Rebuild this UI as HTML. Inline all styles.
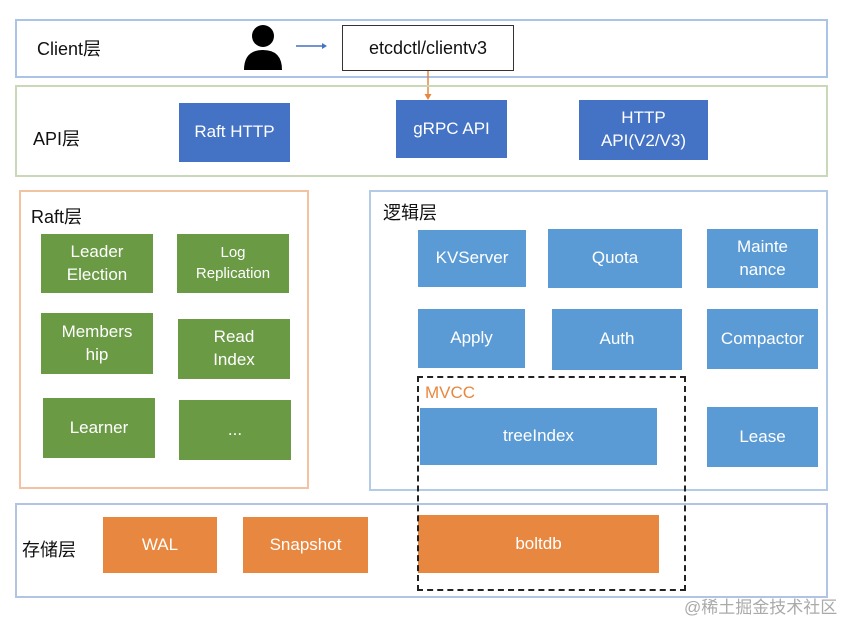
<!DOCTYPE html>
<html><head><meta charset="utf-8"><style>
body{margin:0;width:854px;height:620px;background:#fff;position:relative;overflow:hidden;font-family:"Liberation Sans","Noto Sans CJK SC",sans-serif}
div{position:absolute;box-sizing:border-box}
.b{display:flex;align-items:center;justify-content:center;text-align:center;color:#fff;font-size:17px;line-height:1.35}
.api{background:#4472c4}
.lg{background:#5b9bd5}
.gr{background:#6b9a45}
.or{background:#e8873f}
.lbl{font-size:18px;color:#111}
</style></head><body>
<div style="left:15px;top:19px;width:813px;height:59px;border:2px solid #a9c4e6"></div>
<div class="lbl" style="left:37px;top:35px">Client层</div>
<svg style="position:absolute;left:240px;top:24px" width="100" height="50">
<circle cx="23" cy="12" r="11" fill="#000"/>
<path d="M4 46 Q4 26 23 26 Q42 26 42 46 Z" fill="#000"/>
<line x1="56" y1="22" x2="82" y2="22" stroke="#4472c4" stroke-width="1.5"/>
<path d="M82 19 L87 22 L82 25Z" fill="#4472c4"/>
</svg>
<div class="b" style="left:342px;top:25px;width:172px;height:46px;border:1.5px solid #333;color:#111;font-size:18px">etcdctl/clientv3</div>
<svg style="position:absolute;left:420px;top:71px" width="16" height="30"><line x1="8" y1="0" x2="8" y2="24" stroke="#e8873f" stroke-width="1.5"/><path d="M4.5 23 L8 29 L11.5 23Z" fill="#e8873f"/></svg>

<div style="left:15px;top:85px;width:813px;height:92px;border:2px solid #c9d9b8"></div>
<div class="lbl" style="left:33px;top:125px">API层</div>
<div class="b api" style="left:179px;top:103px;width:111px;height:59px">Raft HTTP</div>
<div class="b api" style="left:396px;top:100px;width:111px;height:58px">gRPC API</div>
<div class="b api" style="left:579px;top:100px;width:129px;height:60px">HTTP<br>API(V2/V3)</div>

<div style="left:19px;top:190px;width:290px;height:299px;border:2px solid #f2c3a3"></div>
<div class="lbl" style="left:31px;top:203px">Raft层</div>
<div class="b gr" style="left:41px;top:234px;width:112px;height:59px">Leader<br>Election</div>
<div class="b gr" style="left:177px;top:234px;width:112px;height:59px;font-size:15px">Log<br>Replication</div>
<div class="b gr" style="left:41px;top:313px;width:112px;height:61px">Members<br>hip</div>
<div class="b gr" style="left:178px;top:319px;width:112px;height:60px">Read<br>Index</div>
<div class="b gr" style="left:43px;top:398px;width:112px;height:60px">Learner</div>
<div class="b gr" style="left:179px;top:400px;width:112px;height:60px">...</div>

<div style="left:369px;top:190px;width:459px;height:301px;border:2px solid #b3cbe6"></div>
<div class="lbl" style="left:383px;top:199px">逻辑层</div>
<div class="b lg" style="left:418px;top:230px;width:108px;height:57px">KVServer</div>
<div class="b lg" style="left:548px;top:229px;width:134px;height:59px">Quota</div>
<div class="b lg" style="left:707px;top:229px;width:111px;height:59px">Mainte<br>nance</div>
<div class="b lg" style="left:418px;top:309px;width:107px;height:59px">Apply</div>
<div class="b lg" style="left:552px;top:309px;width:130px;height:61px">Auth</div>
<div class="b lg" style="left:707px;top:309px;width:111px;height:60px">Compactor</div>
<div class="b lg" style="left:420px;top:408px;width:237px;height:57px">treeIndex</div>
<div class="b lg" style="left:707px;top:407px;width:111px;height:60px">Lease</div>

<div style="left:15px;top:503px;width:813px;height:95px;border:2px solid #b3c3e3"></div>
<div class="lbl" style="left:22px;top:536px">存储层</div>
<div class="b or" style="left:103px;top:517px;width:114px;height:56px">WAL</div>
<div class="b or" style="left:243px;top:517px;width:125px;height:56px">Snapshot</div>
<div class="b or" style="left:418px;top:515px;width:241px;height:58px">boltdb</div>

<div style="left:417px;top:376px;width:269px;height:215px;border:2.5px dashed #222"></div>
<div style="left:425px;top:383px;color:#e8873f;font-size:17px">MVCC</div>
<div style="left:684px;top:593px;color:#aaa;font-size:17px">@稀土掘金技术社区</div>
</body></html>
